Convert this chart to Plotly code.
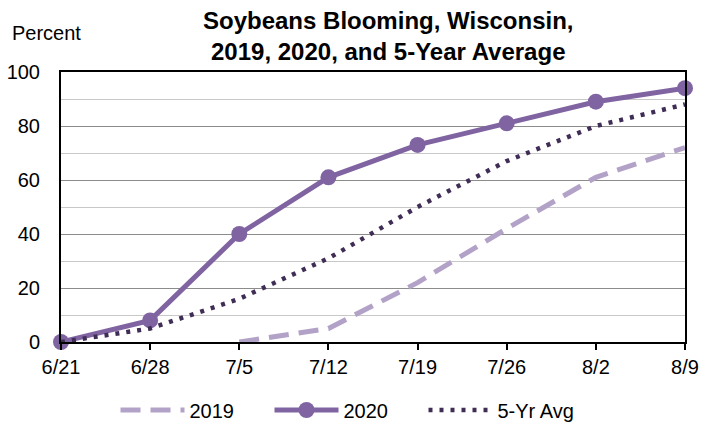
import plotly.graph_objects as go

dates = ["6/21", "6/28", "7/5", "7/12", "7/19", "7/26", "8/2", "8/9"]
y2019 = [None, None, 0, 5, 22, 42, 61, 72]
y2020 = [0, 8, 40, 61, 73, 81, 89, 94]
avg5 = [0, 5, 16, 31, 50, 67, 80, 88]

FONT = "Liberation Sans, Arial, sans-serif"
L, R, T, B = 61, 16, 72, 80
PW, PH = 701 - L - R, 422 - T - B

fig = go.Figure()
fig.add_trace(go.Scatter(x=dates, y=y2019, name="2019", mode="lines", cliponaxis=False,
                         line=dict(color="#B3A2C7", width=5, dash="20px,10px")))
fig.add_trace(go.Scatter(x=dates, y=y2020, name="2020", mode="lines+markers", cliponaxis=False,
                         line=dict(color="#8064A2", width=5),
                         marker=dict(color="#8064A2", size=16)))
fig.add_trace(go.Scatter(x=dates, y=avg5, name="5-Yr Avg", mode="lines", cliponaxis=False,
                         line=dict(color="#3F2D55", width=4.5, dash="4px,7px")))

fig.update_layout(
    width=701, height=422,
    margin=dict(l=L, r=R, t=T, b=B, autoexpand=False),
    paper_bgcolor="white", plot_bgcolor="white",
    font=dict(family=FONT, size=20, color="black"),
    showlegend=True,
    legend=dict(orientation="h", xref="container", x=0.5 - 4/701, xanchor="center",
                yref="container", y=12/422, yanchor="middle",
                font=dict(family=FONT, size=20), traceorder="normal",
                itemwidth=64, entrywidth=75, entrywidthmode="pixels"),
    xaxis=dict(type="category", range=[0, 7], showgrid=False, automargin=False,
               showline=True, linecolor="black", linewidth=2, mirror=True,
               ticks="outside", ticklen=6, tickcolor="black", tickwidth=1.5,
               tickfont=dict(family=FONT, size=20), zeroline=False),
    yaxis=dict(range=[0, 100], dtick=20, showgrid=True, gridcolor="#8C8C8C", gridwidth=1.2,
               automargin=False,
               minor=dict(dtick=10, showgrid=True, gridcolor="#C8C8C8", gridwidth=1.2),
               showline=True, linecolor="black", linewidth=2, mirror=True,
               ticks="outside", ticklen=15, tickcolor="rgba(0,0,0,0)",
               tickfont=dict(family=FONT, size=20), zeroline=False),
    annotations=[
        dict(text="<b>Soybeans Blooming, Wisconsin,<br>2019, 2020, and 5-Year Average</b>",
             xref="paper", yref="paper", x=(388 - L) / PW, y=(422 - B - 36) / PH,
             xanchor="center", yanchor="middle", showarrow=False,
             font=dict(family=FONT, size=24, color="black")),
        dict(text="Percent", xref="paper", yref="paper",
             x=(10 - L) / PW, y=(422 - B - 33) / PH, xanchor="left", yanchor="middle",
             showarrow=False, font=dict(family=FONT, size=20)),
    ],
)

fig.write_html("out.html", config={"displayModeBar": False},
               post_script="document.body.style.margin='0';document.body.style.overflow='hidden';")
